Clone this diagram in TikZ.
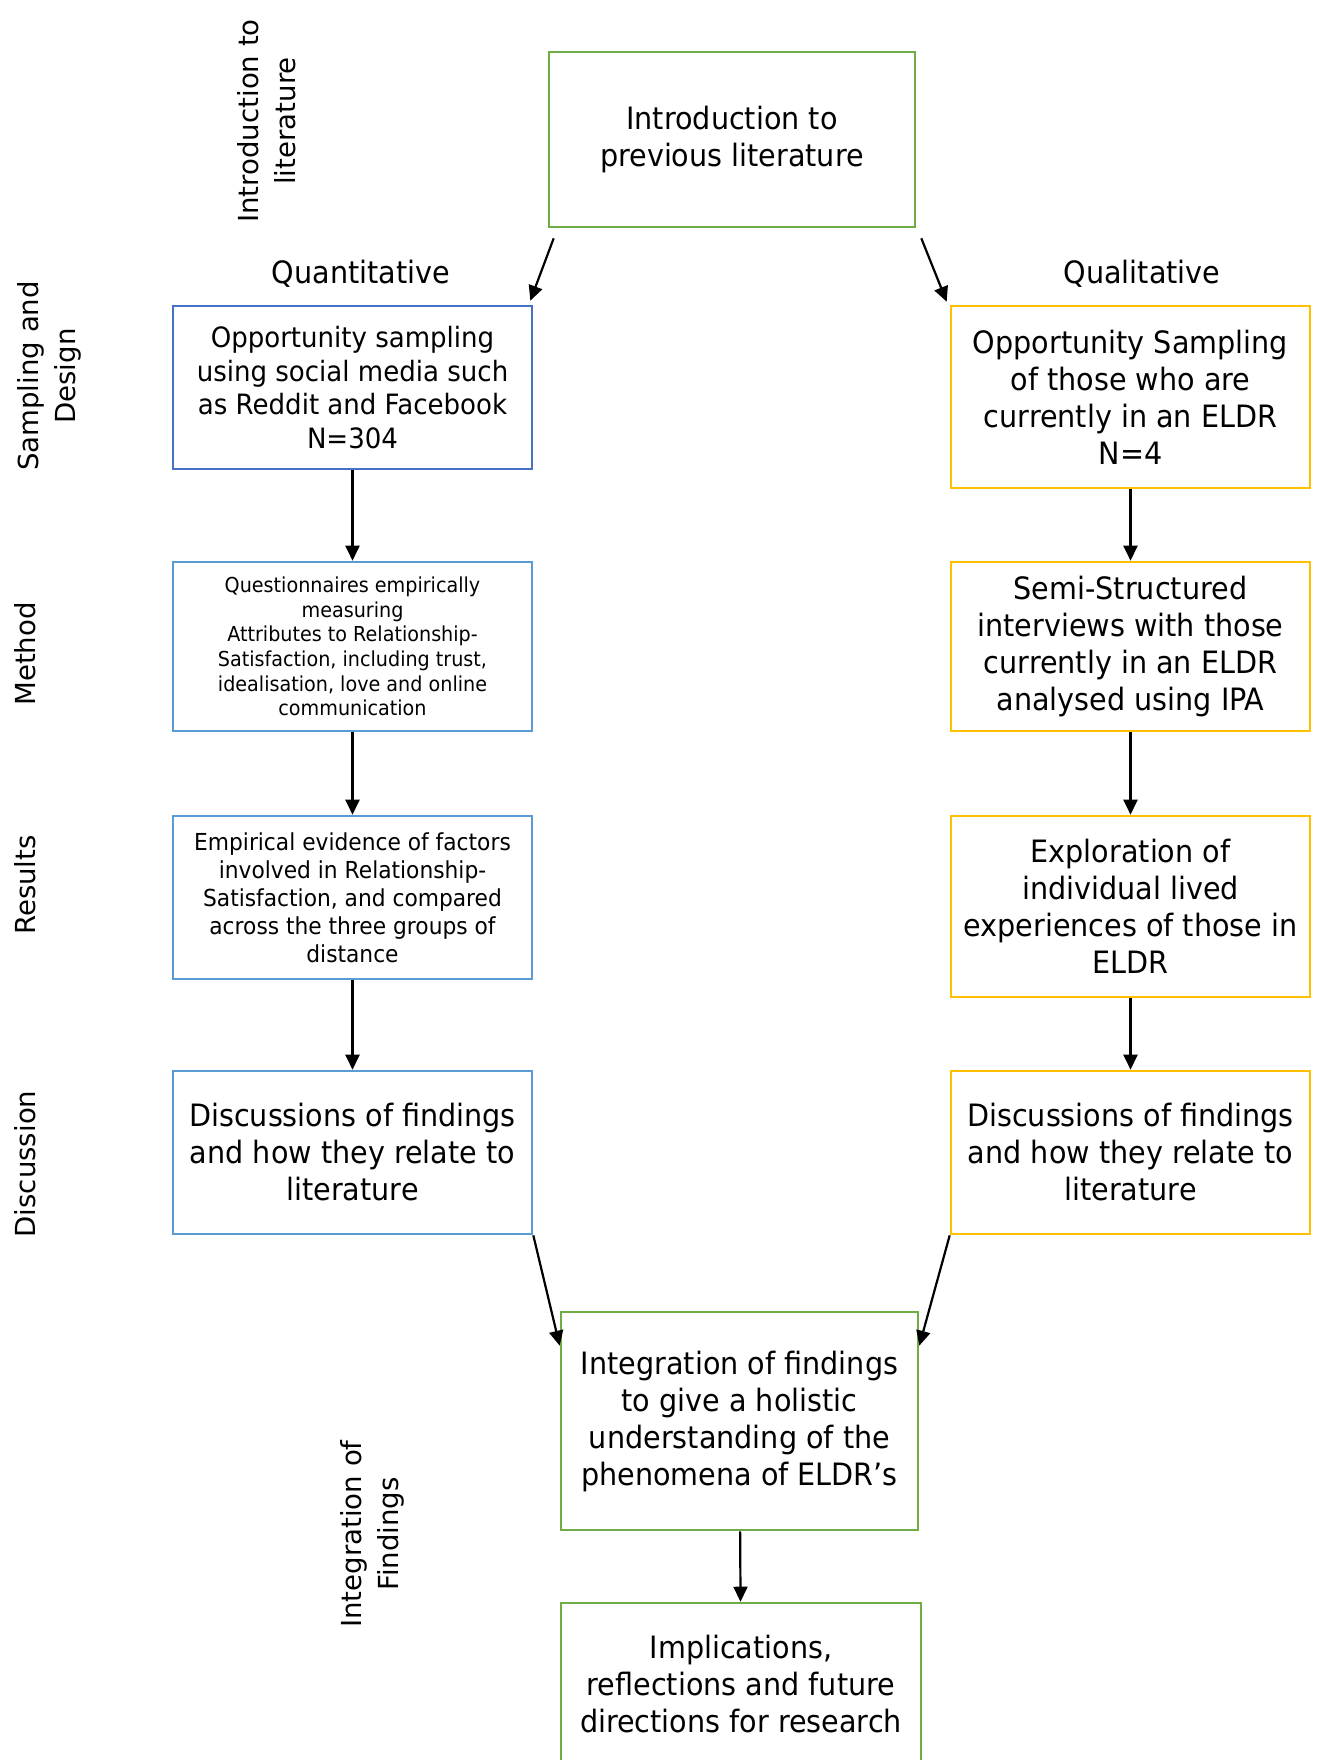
\documentclass[tikz,border=0pt]{standalone}
\usepackage{fontspec}
\setmainfont{DejaVu Sans}[FakeStretch=0.93]
\newfontfamily\labelfont{DejaVu Sans}
\usetikzlibrary{arrows.meta,calc}
\definecolor{boxgreen}{RGB}{112,173,71}
\definecolor{boxblue}{RGB}{68,114,196}
\definecolor{lightblue}{RGB}{91,155,213}
\definecolor{boxyellow}{RGB}{255,192,0}
\tikzset{
  stagebox/.style={draw, line width=1.3pt, align=center, inner sep=0pt,
    minimum width=179.5pt},
  greenbox/.style={stagebox, draw=boxgreen},
  bluebox/.style={stagebox, draw=boxblue},
  lightbox/.style={stagebox, draw=lightblue},
  yellowbox/.style={stagebox, draw=boxyellow},
  sidelabel/.style={rotate=90, align=center, font=\labelfont\fontsize{13.8}{18.5}\selectfont},
  arr/.style={-{Triangle[length=7.5pt,width=7pt]}, line width=1.1pt},
  big/.style={font=\fontsize{15.4}{18.5}\selectfont}
}
\begin{document}
\begin{tikzpicture}[x=0.5pt,y=-0.5pt]
\clip (0,0) rectangle (1318,1760);
% side labels
\node[sidelabel] (lintro) at (267,121) {Introduction to\\literature};
\node[sidelabel] (lsample) at (49,376) {Sampling and\\Design};
\node[sidelabel] (lmethod) at (25,654) {Method};
\node[sidelabel] (lresult) at (25,885) {Results};
\node[sidelabel] (ldisc) at (25,1164) {Discussion};
\node[sidelabel] (linteg) at (372,1534) {Integration of\\Findings};
% top
\node[greenbox, big, minimum width=183pt, minimum height=87.5pt] (intro) at (732,139.5)
  {Introduction to\\previous literature};
\node[big] (quant) at (361,274) {Quantitative};
\node[big] (qual) at (1142,274) {Qualitative};
% quantitative column
\node[bluebox, minimum height=81.5pt, font=\fontsize{14}{16.8}\selectfont] (q1) at (352.5,387.5)
  {Opportunity sampling\\using social media such\\as Reddit and Facebook\\N=304};
\node[lightbox, minimum height=84.5pt, font=\fontsize{10.3}{12.35}\selectfont] (q2) at (352.5,646.5)
  {Questionnaires empirically\\measuring\\Attributes to Relationship-\\Satisfaction, including trust,\\idealisation, love and online\\communication};
\node[lightbox, minimum height=81.5pt, font=\fontsize{11.7}{14}\selectfont] (q3) at (352.5,897.5)
  {Empirical evidence of factors\\involved in Relationship-\\Satisfaction, and compared\\across the three groups of\\distance};
\node[lightbox, big, minimum height=81.5pt] (q4) at (352.5,1152.5)
  {Discussions of findings\\and how they relate to\\literature};
% qualitative column
\node[yellowbox, big, minimum height=91pt] (r1) at (1130.5,397)
  {Opportunity Sampling\\of those who are\\currently in an ELDR\\N=4};
\node[yellowbox, big, minimum height=84.5pt] (r2) at (1130.5,646.5)
  {Semi-Structured\\interviews with those\\currently in an ELDR\\analysed using IPA};
\node[yellowbox, big, minimum height=90.5pt] (r3) at (1130.5,906.5)
  {Exploration of\\individual lived\\experiences of those in\\ELDR};
\node[yellowbox, big, minimum height=81.5pt] (r4) at (1130.5,1152.5)
  {Discussions of findings\\and how they relate to\\literature};
% bottom
\node[greenbox, big, minimum width=178.5pt, minimum height=109pt] (integ) at (739.5,1421)
  {Integration of findings\\to give a holistic\\understanding of the\\phenomena of ELDR’s};
\node[greenbox, big, minimum width=180pt, minimum height=81pt] (impl) at (741,1684)
  {Implications,\\reflections and future\\directions for research};
% arrows
\draw[arr] ($(intro.south west)+(6,10)$) -- ($(q1.north east)+(-3,-4)$);
\draw[arr] ($(intro.south east)+(5,10)$) -- ($(r1.north west)+(-3,-3)$);
\draw[arr] (q1) -- (q2);
\draw[arr] (q2) -- (q3);
\draw[arr] (q3) -- (q4);
\draw[arr] (r1) -- (r2);
\draw[arr] (r2) -- (r3);
\draw[arr] (r3) -- (r4);
\draw[arr] (q4.south east) -- ($(integ.north west)+(0,35)$);
\draw[arr] (r4.south west) -- ($(integ.north east)+(0,35)$);
\draw[arr] (integ) -- (impl);
\end{tikzpicture}
\end{document}
